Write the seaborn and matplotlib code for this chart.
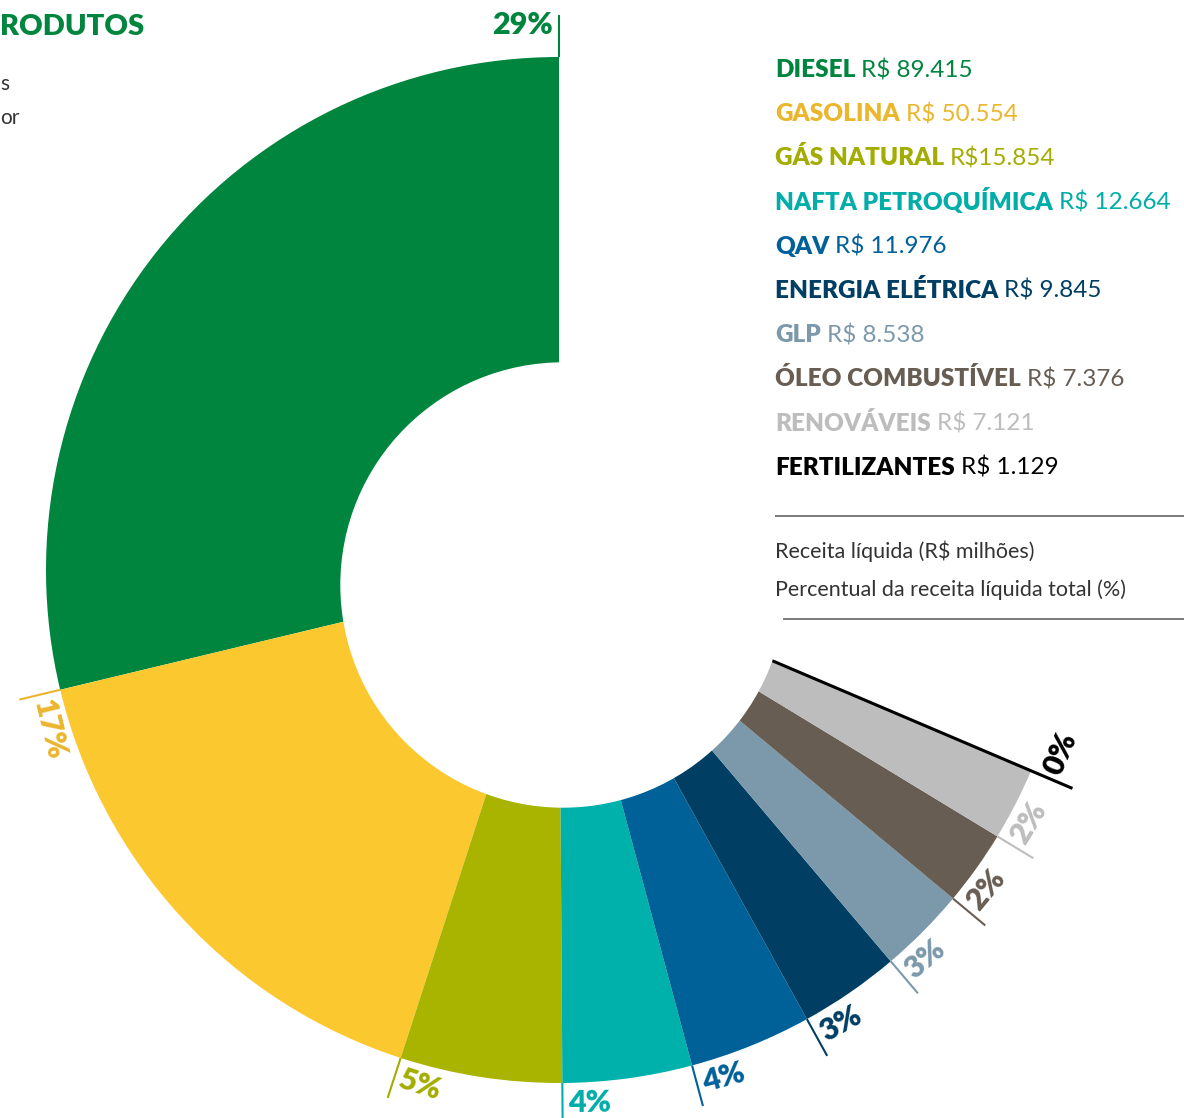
import numpy as np
import pandas as pd
import seaborn as sns
import matplotlib.pyplot as plt

sns.set_theme(style="white")
plt.rcParams['font.family'] = ['Lato', 'DejaVu Sans']

# receita líquida por produto (R$ milhões)
produtos = ['DIESEL', 'GASOLINA', 'GÁS NATURAL', 'NAFTA PETROQUÍMICA', 'QAV',
            'ENERGIA ELÉTRICA', 'GLP', 'ÓLEO COMBUSTÍVEL', 'RENOVÁVEIS', 'FERTILIZANTES']
receita = [89.415, 50.554, 15.854, 12.664, 11.976, 9.845, 8.538, 7.376, 7.121, 1.129]
receita_txt = ['R$ 89.415', 'R$ 50.554', 'R$15.854', 'R$ 12.664', 'R$ 11.976',
               'R$ 9.845', 'R$ 8.538', 'R$ 7.376', 'R$ 7.121', 'R$ 1.129']
percentual = ['29%', '17%', '5%', '4%', '4%', '3%', '3%', '2%', '2%', '0%']
receita_total = 311.0  # estimado; o resto da volta fica em branco

cores = ['#00853f', '#fcc82f', '#a9b400', '#00b1ab', '#006199', '#003f63',
         '#7b99ab', '#675d53', '#bdbdbd', '#000000']
cores_txt = ['#00853f', '#ebb52c', '#a3ad00', '#00ada8', '#00609a', '#003f63',
             '#7b99ab', '#675d53', '#bdbdbd', '#000000']

df = pd.DataFrame({'produto': produtos, 'receita': receita, 'valor': receita_txt,
                   'pct': percentual, 'cor': cores, 'cor_txt': cores_txt})

W, H = 1184, 1118
fig = plt.figure(figsize=(W / 100, H / 100), dpi=100)
ax = fig.add_axes([0, 0, 1, 1])

cx, cy, R = 559, H - 570, 513
outros = receita_total - df['receita'].sum()
faces = list(df['cor'][:-1]) + ['none', 'none']
wedges, _ = ax.pie(list(df['receita']) + [outros], colors=faces, startangle=90,
                   counterclock=True, radius=R, center=(cx, cy),
                   wedgeprops=dict(linewidth=0))
ax.set_xlim(0, W)
ax.set_ylim(0, H)
ax.set_aspect('equal')
ax.axis('off')

# furo central (levemente deslocado no original)
ax.add_patch(plt.Circle((563, H - 585), 222, color='white', zorder=3))

r_txt = 533
for i, row in df.iterrows():
    deg = wedges[i].theta1
    th = np.deg2rad(deg)
    if i == len(df) - 1:
        r0, r1, lw, z = 0, 558, 2.2, 2
    else:
        r0, r1, lw, z = R, R + 42, 1.5, 4
    ax.plot([cx + r0 * np.cos(th), cx + r1 * np.cos(th)],
            [cy + r0 * np.sin(th), cy + r1 * np.sin(th)],
            color=row['cor_txt'], lw=lw, zorder=z, solid_capstyle='butt')
    a = th + 6 / r_txt
    if 45 < deg < 135:
        rot, ha, rr = deg - 90, 'right', 545
    else:
        rot, ha, rr = deg + 90, 'left', r_txt
    x, y = cx + rr * np.cos(a), cy + rr * np.sin(a)
    ax.text(x, y, row['pct'], rotation=rot, rotation_mode='anchor', ha=ha, va='center',
            fontsize=22, fontweight='heavy', color=row['cor_txt'], zorder=5)

# legenda
fig.canvas.draw()
renderer = fig.canvas.get_renderer()
inv = ax.transData.inverted()
for i, row in df.iterrows():
    y = H - (77 + 44.2 * i)
    t = ax.text(775, y, row['produto'], fontsize=17.5, fontweight='heavy',
                color=row['cor_txt'], va='baseline')
    bb = t.get_window_extent(renderer)
    x2 = inv.transform((bb.x1, bb.y0))[0]
    ax.text(x2 + 6, y, row['valor'], fontsize=17.5, color=row['cor_txt'], va='baseline')

ax.plot([775, W], [H - 516, H - 516], color='#555555', lw=1.1, solid_capstyle='butt')
ax.plot([775, W], [H - 619, H - 619], color='#555555', lw=1.1, solid_capstyle='butt')
ax.text(775, H - 558, 'Receita líquida (R$ milhões)', fontsize=15.5, color='#333333',
        va='baseline')
ax.text(775, H - 596, 'Percentual da receita líquida total (%)', fontsize=15.5,
        color='#333333', va='baseline')

# fragmentos de texto cortados no canto
ax.text(0, H - 35, 'RODUTOS', fontsize=21, fontweight='heavy', color='#00853f', va='baseline')
ax.text(0, H - 90, 's', fontsize=15, color='#333333', va='baseline')
ax.text(0, H - 124, 'or', fontsize=15, color='#333333', va='baseline')

fig.savefig('out.png', dpi=100, facecolor='white')
